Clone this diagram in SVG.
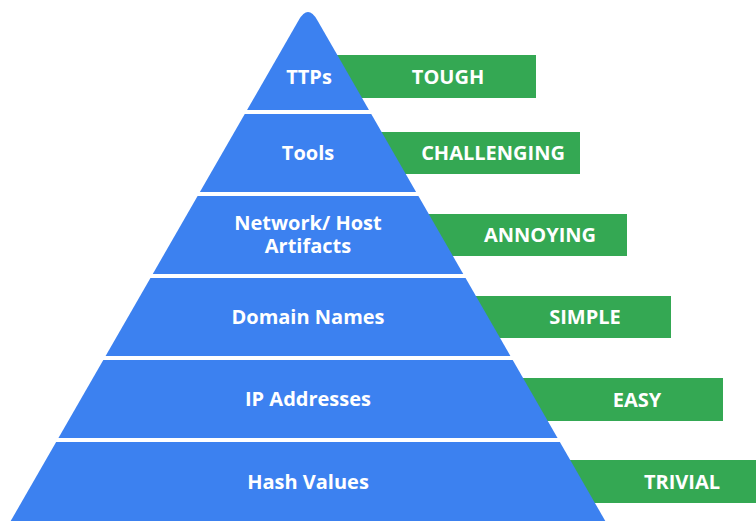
<svg xmlns="http://www.w3.org/2000/svg" width="756" height="521" viewBox="0 0 756 521">
<style>
.layer{fill:#3c81f0}
.bar{fill:#34a853}
text{font-family:"Open Sans","Liberation Sans",sans-serif;font-weight:700;font-size:20px;fill:#ffffff;text-anchor:middle}
</style>
<rect width="756" height="521" fill="#ffffff"/>
<g id="bars">
<g id="bar-tough"><rect class="bar" x="320" y="55" width="216" height="43"/><text x="448" y="83.5">TOUGH</text></g>
<g id="bar-challenging"><rect class="bar" x="360" y="132" width="220" height="42"/><text x="493" y="160">CHALLENGING</text></g>
<g id="bar-annoying"><rect class="bar" x="420" y="214" width="207" height="42"/><text x="540" y="242">ANNOYING</text></g>
<g id="bar-simple"><rect class="bar" x="460" y="296" width="211" height="42"/><text x="585" y="324">SIMPLE</text></g>
<g id="bar-easy"><rect class="bar" x="500" y="378" width="223" height="43"/><text x="637" y="406.5">EASY</text></g>
<g id="bar-trivial"><rect class="bar" x="540" y="460" width="216" height="43"/><text x="682" y="488.5">TRIVIAL</text></g>
</g>
<g id="pyramid">
<g id="layer-ttps"><path class="layer" d="M247.05 110 L298.8 20 Q308 4 317.2 20 L368.95 110 Z"/><text x="309" y="83.5">TTPs</text></g>
<g id="layer-tools"><polygon class="layer" points="244.75,114 371.25,114 416.1,192 199.9,192"/><text x="308" y="160">Tools</text></g>
<g id="layer-artifacts"><polygon class="layer" points="197.6,196 418.4,196 463.25,274 152.75,274"/><text x="308" y="230">Network/ Host</text><text x="308" y="253">Artifacts</text></g>
<g id="layer-domains"><polygon class="layer" points="150.45,278 465.55,278 510.4,356 105.6,356"/><text x="308" y="324">Domain Names</text></g>
<g id="layer-ip"><polygon class="layer" points="103.3,360 512.7,360 557.55,438 58.45,438"/><text x="308" y="406">IP Addresses</text></g>
<g id="layer-hash"><polygon class="layer" points="56.15,442 559.85,442 605.3,521 10.7,521"/><text x="308" y="489">Hash Values</text></g>
</g>
</svg>
